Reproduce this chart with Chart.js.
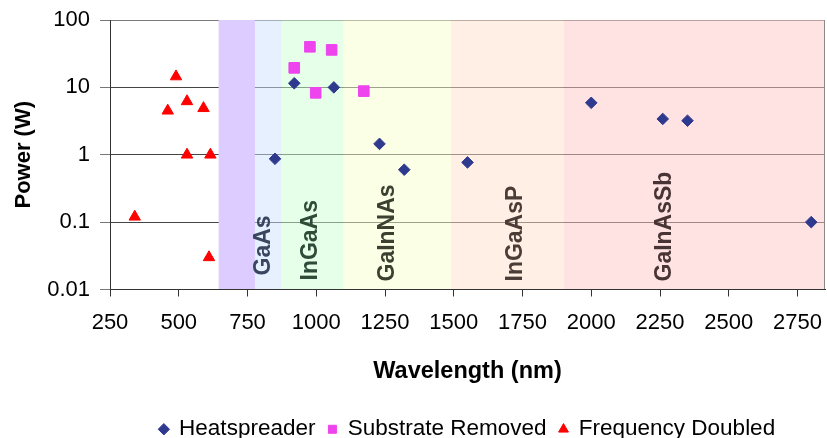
<!DOCTYPE html>
<html>
<head>
<meta charset="utf-8">
<script src="https://cdn.jsdelivr.net/npm/chart.js@4.4.0/dist/chart.umd.min.js"></script>
<style>
  html, body { margin: 0; padding: 0; background: #fff; }
  #wrap { width: 827px; height: 438px; }
</style>
</head>
<body>
<div id="wrap"><canvas id="myChart"></canvas></div>
<script>
// wavelength (nm) and power (W) for each group
var heatWl = [850, 920, 1064, 1230, 1320, 1550, 2000, 2260, 2350, 2800];
var heatPw = [0.87, 11.5, 10, 1.45, 0.6, 0.77, 5.9, 3.4, 3.2, 0.1];
var subWl = [920, 977, 998, 1056, 1173];
var subPw = [19.5, 40, 8.3, 36, 8.8];
var freqWl = [340, 460, 490, 530, 530, 590, 615, 610];
var freqPw = [0.12, 4.5, 14.5, 6.2, 1, 4.9, 1, 0.03];

var xTicks = [250, 500, 750, 1000, 1250, 1500, 1750, 2000, 2250, 2500, 2750];
var yTicks = [0.01, 0.1, 1, 10, 100];

// material bands (nm)
var bandNames = ['', 'GaAs', 'InGaAs', 'GaInNAs', 'InGaAsP', 'GaInAsSb'];
var bandStart = [645, 777, 874, 1098, 1490, 1900];
var bandEnd = [777, 874, 1098, 1490, 1900, 2850];
var bandLabelWl = [0, 810, 981, 1261, 1726, 2268];

var bandColors = ['rgb(220,204,255)', 'rgba(205,225,255,0.5)', 'rgba(205,255,211,0.5)',
                  'rgba(245,255,205,0.5)', 'rgba(255,223,201,0.5)', 'rgba(255,199,199,0.5)'];
var bandTextColors = ['#000', '#3a4560', '#2e4a38', '#3c4030', '#4a3c36', '#483434'];
var bandLabelGap = [0, 14, 9, 8, 8, 8];

function pts(xs, ys) {
    return xs.map(function (v, i) { return {x: v, y: ys[i]}; });
}

var FONT = '"Liberation Sans", Arial, sans-serif';
Chart.defaults.font.family = FONT;
Chart.defaults.color = '#000';

var bandPlugin = {
    id: 'bands',
    afterLayout: function (chart) {
        // center the legend under the plot area
        var lg = chart.legend, a = chart.chartArea;
        var dx = (a.left + a.right) / 2 - (lg.left + lg.right) / 2;
        lg.left += dx; lg.right += dx;
        var dy = 405 - lg.top;
        lg.top += dy; lg.bottom += dy;
    },
    beforeDatasetsDraw: function (chart) {
        var ctx = chart.ctx, a = chart.chartArea, x = chart.scales.x;
        ctx.save();
        for (var i = 0; i < bandStart.length; i++) {
            var x0 = x.getPixelForValue(bandStart[i]);
            var x1 = Math.min(x.getPixelForValue(bandEnd[i]), a.right);
            ctx.fillStyle = bandColors[i];
            ctx.fillRect(x0, a.top, x1 - x0, a.bottom - a.top);
        }
        ctx.font = 'bold 23px ' + FONT;
        ctx.textAlign = 'left';
        ctx.textBaseline = 'middle';
        for (i = 0; i < bandNames.length; i++) {
            if (!bandNames[i]) continue;
            ctx.save();
            ctx.translate(x.getPixelForValue(bandLabelWl[i]), a.bottom - bandLabelGap[i]);
            ctx.rotate(-Math.PI / 2);
            ctx.fillStyle = bandTextColors[i];
            ctx.fillText(bandNames[i], 0, 0);
            ctx.restore();
        }
        ctx.restore();
    },
    afterDatasetsDraw: function (chart) {
        var ctx = chart.ctx, a = chart.chartArea;
        ctx.save();
        ctx.strokeStyle = '#8a8a8a';
        ctx.lineWidth = 1;
        ctx.beginPath();
        ctx.moveTo(a.right - 0.5, a.top);
        ctx.lineTo(a.right - 0.5, a.bottom);
        ctx.stroke();
        ctx.restore();
    }
};

var ctx = document.getElementById('myChart').getContext('2d');
var chart = new Chart(ctx, {
    type: 'scatter',
    data: {
        datasets: [{
            label: 'Heatspreader',
            data: pts(heatWl, heatPw),
            pointStyle: 'rectRot',
            pointRadius: 5.8,
            backgroundColor: '#2f3a8f',
            borderColor: '#2f3a8f',
            borderWidth: 1
        }, {
            label: 'Substrate Removed',
            data: pts(subWl, subPw),
            pointStyle: 'rect',
            pointRadius: 7.5,
            backgroundColor: '#ee44ee',
            borderColor: '#ee44ee',
            borderWidth: 1
        }, {
            label: 'Frequency Doubled',
            data: pts(freqWl, freqPw),
            pointStyle: 'triangle',
            pointRadius: 6.6,
            backgroundColor: '#ff0000',
            borderColor: '#ff0000',
            borderWidth: 1
        }]
    },
    options: {
        responsive: true,
        maintainAspectRatio: false,
        animation: false,
        layout: {
            autoPadding: false,
            padding: { left: 0, right: 2, top: 20, bottom: 7 }
        },
        plugins: {
            tooltip: { enabled: false },
            legend: {
                display: true,
                position: 'bottom',
                labels: {
                    usePointStyle: true,
                    boxWidth: 8,
                    boxHeight: 8,
                    padding: 13,
                    color: '#000',
                    font: { size: 22.5 }
                }
            }
        },
        scales: {
            x: {
                type: 'linear',
                min: 250,
                max: 2850,
                afterBuildTicks: function (s) {
                    s.ticks = xTicks.map(function (v) { return {value: v}; });
                },
                afterFit: function (s) { s.height = 96; },
                ticks: {
                    padding: 0,
                    maxRotation: 0,
                    font: { size: 22, lineHeight: 2.41 },
                    callback: function (v) { return String(v); }
                },
                grid: {
                    drawOnChartArea: false,
                    drawTicks: true,
                    tickLength: 7,
                    tickColor: '#333'
                },
                border: { color: '#333', width: 1, z: 1 },
                title: {
                    display: true,
                    text: 'Wavelength (nm)',
                    font: { size: 23.5, weight: 'bold' },
                    padding: { top: 0, bottom: 0 }
                }
            },
            y: {
                type: 'logarithmic',
                min: 0.01,
                max: 100,
                afterBuildTicks: function (s) {
                    s.ticks = yTicks.map(function (v) { return {value: v}; });
                },
                afterFit: function (s) { s.width = 110; },
                ticks: {
                    padding: 10,
                    font: { size: 22, lineHeight: 0.6 },
                    callback: function (v) { return String(v); }
                },
                grid: {
                    color: function (c) { return c.tick && c.tick.value === 100 ? '#7a7a7a' : '#444'; },
                    tickLength: 10,
                    tickColor: '#777'
                },
                border: { color: '#333', width: 1, z: 1 },
                title: {
                    display: true,
                    text: 'Power (W)',
                    font: { size: 22, weight: 'bold' },
                    padding: { top: 11, bottom: 0 }
                }
            }
        }
    },
    plugins: [bandPlugin]
});
</script>
</body>
</html>
